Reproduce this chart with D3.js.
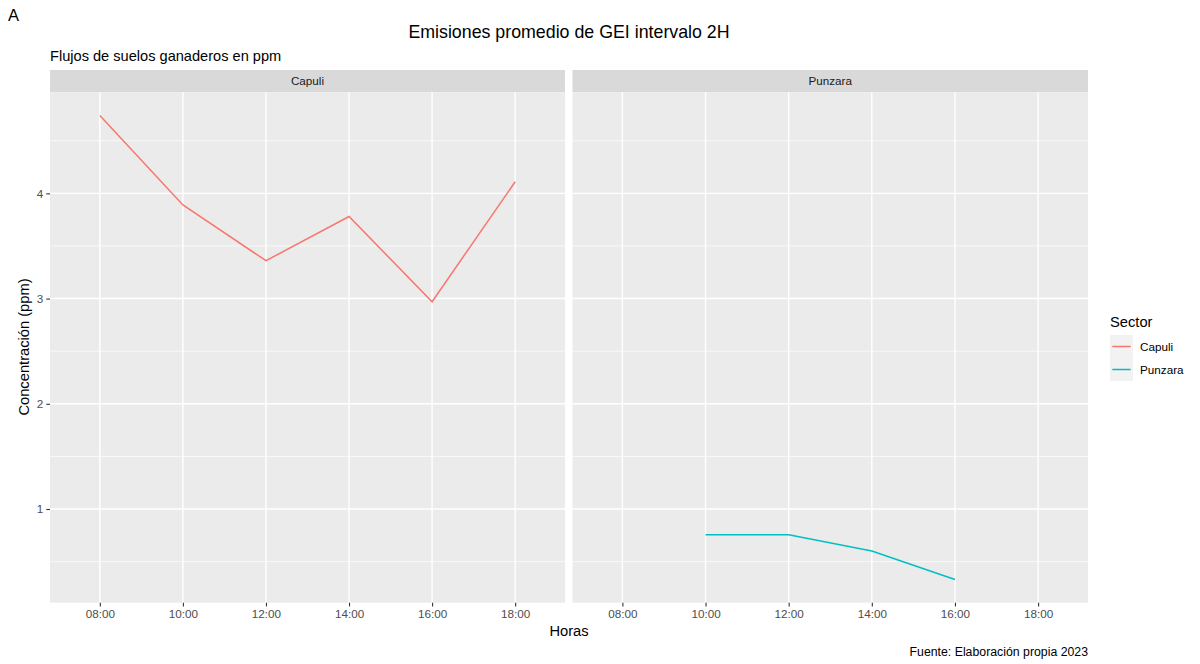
<!DOCTYPE html>
<html><head><meta charset="utf-8">
<script src="https://cdn.jsdelivr.net/npm/d3@7"></script>
<style>body{margin:0;background:#fff}svg{display:block;font-family:"Liberation Sans",Arial,sans-serif}</style>
</head><body><svg id="c" width="1200" height="664"></svg>
<script>
const hours = ["08:00","10:00","12:00","14:00","16:00","18:00"];
const sectors = ["Capuli","Punzara"];
const capuliHours = ["08:00","10:00","12:00","14:00","16:00","18:00"];
const capuliValues = [4.74, 3.89, 3.36, 3.78, 2.97, 4.11];
const punzaraHours = ["10:00","12:00","14:00","16:00"];
const punzaraValues = [0.755, 0.755, 0.60, 0.33];
const yTicks = [1, 2, 3, 4];
const yMinor = [0.5, 1.5, 2.5, 3.5, 4.5];
const colors = ["#F8766D", "#00BFC4"];

const svg = d3.select("#c");
const panelTop = 92.3, panelBottom = 602.7;
const panels = [{x0: 50, x1: 565}, {x0: 572.5, x1: 1088}];
const series = [
  capuliHours.map((h,i)=>({h, v: capuliValues[i]})),
  punzaraHours.map((h,i)=>({h, v: punzaraValues[i]}))
];
const all = capuliValues.concat(punzaraValues);
const mn = d3.min(all), mx = d3.max(all), pad = (mx-mn)*0.05;
const y = d3.scaleLinear().domain([mn-pad, mx+pad]).range([panelBottom, panelTop]);

// title etc
svg.append("text").attr("x", 8).attr("y", 21).attr("font-size", 16.5).attr("fill","#000").text("A");
svg.append("text").attr("x", 569).attr("y", 38).attr("text-anchor","middle").attr("font-size", 17.8).attr("fill","#000").text("Emisiones promedio de GEI intervalo 2H");
svg.append("text").attr("x", 50).attr("y", 61).attr("font-size", 14.6).attr("fill","#000").text("Flujos de suelos ganaderos en ppm");

panels.forEach((p, k) => {
  const x = d3.scalePoint().domain(hours).range([p.x0, p.x1]).padding(0.6);
  const g = svg.append("g");
  // strip
  g.append("rect").attr("x", p.x0).attr("y", 70).attr("width", p.x1-p.x0).attr("height", panelTop-70).attr("fill","#D9D9D9");
  g.append("text").attr("x",(p.x0+p.x1)/2).attr("y", 85).attr("text-anchor","middle").attr("font-size", 11.7).attr("fill","#1A1A1A").text(sectors[k]);
  // panel
  g.append("rect").attr("x", p.x0).attr("y", panelTop).attr("width", p.x1-p.x0).attr("height", panelBottom-panelTop).attr("fill","#EBEBEB");
  g.selectAll(".ymin").data(yMinor).join("line").attr("x1",p.x0).attr("x2",p.x1).attr("y1",d=>y(d)).attr("y2",d=>y(d)).attr("stroke","#fff").attr("stroke-width",0.7);
  g.selectAll(".ymaj").data(yTicks).join("line").attr("x1",p.x0).attr("x2",p.x1).attr("y1",d=>y(d)).attr("y2",d=>y(d)).attr("stroke","#fff").attr("stroke-width",1.4);
  g.selectAll(".xmaj").data(hours).join("line").attr("x1",d=>x(d)).attr("x2",d=>x(d)).attr("y1",panelTop).attr("y2",panelBottom).attr("stroke","#fff").attr("stroke-width",1.4);
  // x axis
  const xa = svg.append("g").attr("transform",`translate(0,${panelBottom})`)
    .call(d3.axisBottom(x).tickSize(3.7).tickPadding(3));
  xa.select(".domain").remove();
  xa.selectAll(".tick line").attr("stroke","#333").attr("stroke-width",1.1);
  xa.selectAll(".tick text").attr("fill","#4D4D4D").attr("font-size",11.7).attr("font-family","Liberation Sans, Arial, sans-serif");
  if (k === 0) {
    const ya = svg.append("g").attr("transform",`translate(${p.x0},0)`)
      .call(d3.axisLeft(y).tickValues(yTicks).tickFormat(d3.format("d")).tickSize(3.7).tickPadding(3));
    ya.select(".domain").remove();
    ya.selectAll(".tick line").attr("stroke","#333").attr("stroke-width",1.1);
    ya.selectAll(".tick text").attr("fill","#4D4D4D").attr("font-size",11.7).attr("font-family","Liberation Sans, Arial, sans-serif");
  }
  // line
  const line = d3.line().x(d=>x(d.h)).y(d=>y(d.v));
  g.append("path").datum(series[k]).attr("d", line).attr("fill","none").attr("stroke", colors[k]).attr("stroke-width",1.5);
});

// axis titles
svg.append("text").attr("x", 569).attr("y", 636).attr("text-anchor","middle").attr("font-size",14.7).attr("fill","#000").text("Horas");
svg.append("text").attr("transform","translate(29,347) rotate(-90)").attr("text-anchor","middle").attr("font-size",14.7).attr("fill","#000").text("Concentración (ppm)");
svg.append("text").attr("x", 1088).attr("y", 656).attr("text-anchor","end").attr("font-size",12.3).attr("fill","#000").text("Fuente: Elaboración propia 2023");

// legend
const lg = svg.append("g");
lg.append("text").attr("x", 1110).attr("y", 327).attr("font-size",14.7).attr("fill","#000").text("Sector");
sectors.forEach((s,i)=>{
  const yy = 335 + i*23;
  lg.append("rect").attr("x",1110).attr("y",yy).attr("width",23).attr("height",23).attr("fill","#F2F2F2");
  lg.append("line").attr("x1",1112.3).attr("x2",1130.7).attr("y1",yy+11.5).attr("y2",yy+11.5).attr("stroke",colors[i]).attr("stroke-width",1.5);
  lg.append("text").attr("x",1140).attr("y",yy+16).attr("font-size",11.7).attr("fill","#000").text(s);
});
</script></body></html>
